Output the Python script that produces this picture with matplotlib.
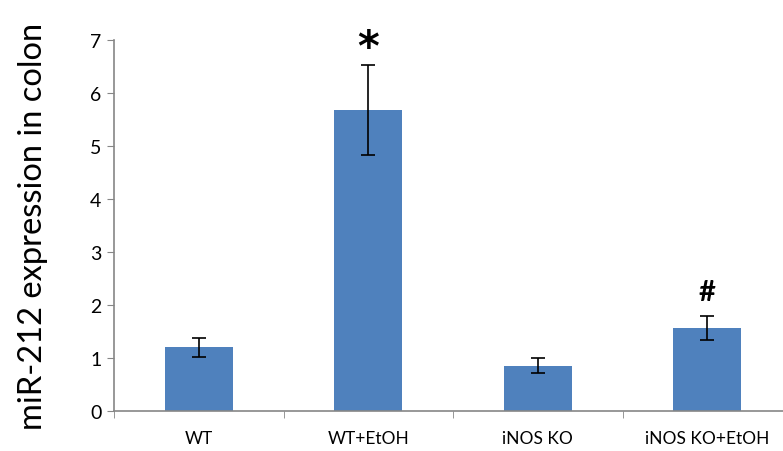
import matplotlib
matplotlib.use("Agg")
import matplotlib.pyplot as plt
import numpy as np

groups = ["WT", "WT+EtOH", "iNOS KO", "iNOS KO+EtOH"]
means = [1.20, 5.68, 0.85, 1.56]
errs = [0.18, 0.85, 0.135, 0.23]
marks = ["", "*", "", "#"]

BAR = "#4F81BD"
AXC = "#868686"
plt.rcParams["font.family"] = ["Lato", "DejaVu Sans"]

fig = plt.figure(figsize=(7.83, 4.52), dpi=100)
# axis runs past the right edge of the figure
ax = fig.add_axes([114 / 783, 1 - 411.7 / 452, (792 - 114) / 783, (411.7 - 40.7) / 452])

x = np.arange(len(groups))
ax.bar(x, means, width=0.4, color=BAR, edgecolor="none", zorder=2)
ax.errorbar(x, means, yerr=errs, fmt="none", ecolor="black", elinewidth=1.2,
            capsize=5, capthick=1.2, zorder=3)
for xi, m, e, s in zip(x, means, errs, marks):
    if s == "*":
        ax.text(xi, m + e - 0.08, s, ha="center", va="bottom", fontsize=30,
                fontweight="bold", family="DejaVu Sans")
    elif s:
        ax.text(xi, m + e + 0.2, s, ha="center", va="bottom", fontsize=21,
                fontweight="bold")

ax.set_xlim(-0.5, 3.5)
ax.set_ylim(0, 7)
ax.set_yticks(range(8))
ax.set_xticks(x)
ax.set_xticklabels(groups, fontsize=12.5)
ax.tick_params(axis="x", length=0, pad=14)
ax.set_xticks(np.arange(-0.5, 3.6, 1), minor=True)
ax.tick_params(axis="x", which="minor", length=5, color=AXC, direction="out")
ax.tick_params(axis="y", labelsize=14, length=5, color=AXC, direction="out", pad=4)
for sp in ["top", "right"]:
    ax.spines[sp].set_visible(False)
for sp in ["left", "bottom"]:
    ax.spines[sp].set_color(AXC)
    ax.spines[sp].set_linewidth(1.2)

fig.text(0.042, 0.5, "miR-212 expression in colon", rotation=90, ha="center",
         va="center", fontsize=23.5)

fig.savefig("out.png", dpi=100)
